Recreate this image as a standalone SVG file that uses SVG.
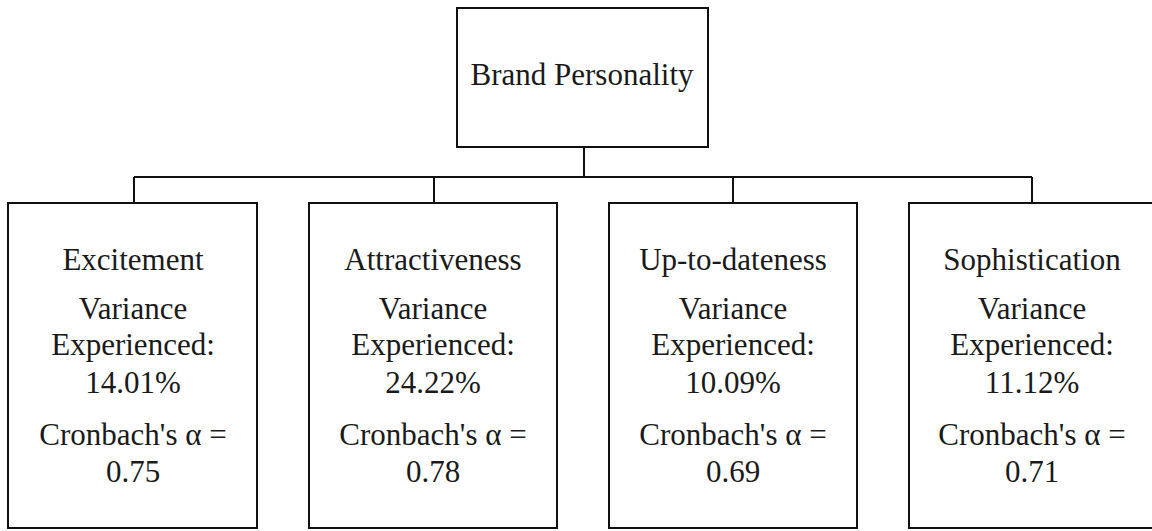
<svg xmlns="http://www.w3.org/2000/svg" width="1152" height="531" viewBox="0 0 1152 531">
<rect width="1152" height="531" fill="#fff"/>
<g id="connectors" fill="none" stroke="#111" stroke-width="2">
<path d="M584 147 V177 M134 177 H1032 M134 177 V203 M434 177 V203 M733 177 V203 M1032 177 V203"/>
</g>
<g id="brand-personality">
<rect x="457" y="8" width="251" height="139" fill="#fff" stroke="#111" stroke-width="2"/>
<text x="582" y="85" font-family="Liberation Serif" font-size="31" text-anchor="middle" fill="#1a1a1a">Brand Personality</text>
</g>
<g id="excitement">
<rect x="8" y="203" width="249" height="325" fill="#fff" stroke="#111" stroke-width="2"/>
<text x="133" y="270" font-family="Liberation Serif" font-size="31" text-anchor="middle" fill="#1a1a1a">Excitement</text>
<text x="133" y="319" font-family="Liberation Serif" font-size="31" text-anchor="middle" fill="#1a1a1a">Variance</text>
<text x="133" y="355" font-family="Liberation Serif" font-size="31" text-anchor="middle" fill="#1a1a1a">Experienced:</text>
<text x="133" y="393" font-family="Liberation Serif" font-size="31" text-anchor="middle" fill="#1a1a1a">14.01%</text>
<text x="133" y="445" font-family="Liberation Serif" font-size="31" text-anchor="middle" fill="#1a1a1a">Cronbach's &#945; =</text>
<text x="133" y="482" font-family="Liberation Serif" font-size="31" text-anchor="middle" fill="#1a1a1a">0.75</text>
</g>
<g id="attractiveness">
<rect x="309" y="203" width="248" height="325" fill="#fff" stroke="#111" stroke-width="2"/>
<text x="433" y="270" font-family="Liberation Serif" font-size="31" text-anchor="middle" fill="#1a1a1a">Attractiveness</text>
<text x="433" y="319" font-family="Liberation Serif" font-size="31" text-anchor="middle" fill="#1a1a1a">Variance</text>
<text x="433" y="355" font-family="Liberation Serif" font-size="31" text-anchor="middle" fill="#1a1a1a">Experienced:</text>
<text x="433" y="393" font-family="Liberation Serif" font-size="31" text-anchor="middle" fill="#1a1a1a">24.22%</text>
<text x="433" y="445" font-family="Liberation Serif" font-size="31" text-anchor="middle" fill="#1a1a1a">Cronbach's &#945; =</text>
<text x="433" y="482" font-family="Liberation Serif" font-size="31" text-anchor="middle" fill="#1a1a1a">0.78</text>
</g>
<g id="up-to-dateness">
<rect x="609" y="203" width="248" height="325" fill="#fff" stroke="#111" stroke-width="2"/>
<text x="733" y="270" font-family="Liberation Serif" font-size="31" text-anchor="middle" fill="#1a1a1a">Up-to-dateness</text>
<text x="733" y="319" font-family="Liberation Serif" font-size="31" text-anchor="middle" fill="#1a1a1a">Variance</text>
<text x="733" y="355" font-family="Liberation Serif" font-size="31" text-anchor="middle" fill="#1a1a1a">Experienced:</text>
<text x="733" y="393" font-family="Liberation Serif" font-size="31" text-anchor="middle" fill="#1a1a1a">10.09%</text>
<text x="733" y="445" font-family="Liberation Serif" font-size="31" text-anchor="middle" fill="#1a1a1a">Cronbach's &#945; =</text>
<text x="733" y="482" font-family="Liberation Serif" font-size="31" text-anchor="middle" fill="#1a1a1a">0.69</text>
</g>
<g id="sophistication">
<rect x="909" y="203" width="248" height="325" fill="#fff" stroke="#111" stroke-width="2"/>
<text x="1032" y="270" font-family="Liberation Serif" font-size="31" text-anchor="middle" fill="#1a1a1a">Sophistication</text>
<text x="1032" y="319" font-family="Liberation Serif" font-size="31" text-anchor="middle" fill="#1a1a1a">Variance</text>
<text x="1032" y="355" font-family="Liberation Serif" font-size="31" text-anchor="middle" fill="#1a1a1a">Experienced:</text>
<text x="1032" y="393" font-family="Liberation Serif" font-size="31" text-anchor="middle" fill="#1a1a1a">11.12%</text>
<text x="1032" y="445" font-family="Liberation Serif" font-size="31" text-anchor="middle" fill="#1a1a1a">Cronbach's &#945; =</text>
<text x="1032" y="482" font-family="Liberation Serif" font-size="31" text-anchor="middle" fill="#1a1a1a">0.71</text>
</g>
</svg>
